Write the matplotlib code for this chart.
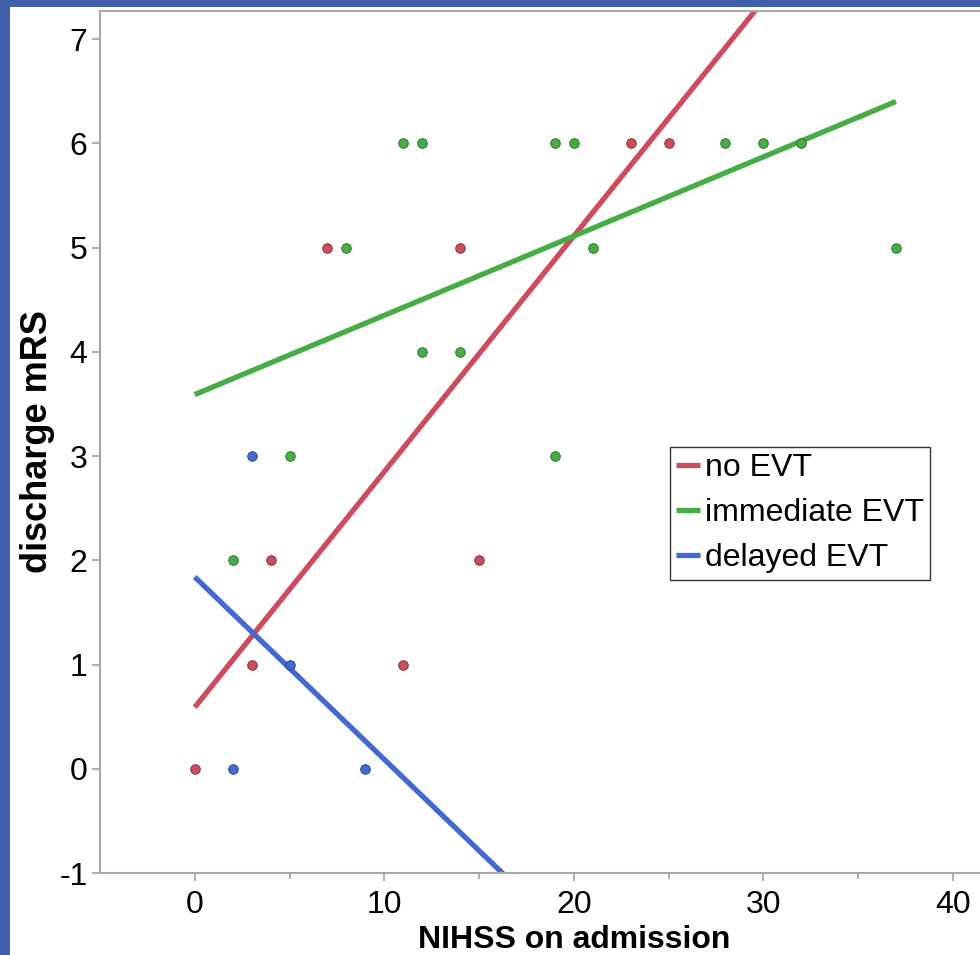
import matplotlib.pyplot as plt
from matplotlib.patches import Rectangle
import numpy as np

plt.rcParams['font.family'] = ['Liberation Sans', 'DejaVu Sans']
plt.rcParams['axes.unicode_minus'] = False

# scatter data: NIHSS on admission vs discharge mRS
no_evt_x = [0, 3, 4, 7, 11, 14, 15, 23, 25]
no_evt_y = [0, 1, 2, 5, 1, 5, 2, 6, 6]
imm_evt_x = [2, 5, 8, 11, 12, 12, 14, 19, 19, 20, 21, 28, 30, 32, 37]
imm_evt_y = [2, 3, 5, 6, 6, 4, 4, 6, 3, 6, 5, 6, 6, 6, 5]
del_evt_x = [2, 3, 5, 9]
del_evt_y = [0, 3, 1, 0]

# fitted lines (intercept, slope)
groups = ["no EVT", "immediate EVT", "delayed EVT"]
intercepts = [0.59, 3.59, 1.84]
slopes = [0.226, 0.076, -0.175]
fit_range = [0, 37]

colors = ["#cc4b5c", "#46ad46", "#4269d2"]
edges = ["#7a2a34", "#2a6a2a", "#253f82"]

fig = plt.figure(figsize=(9.8, 9.55), dpi=100)
fig.patch.set_facecolor("#4160ac")
# white slide panel behind the chart
panel = Rectangle((10 / 980, 0), 1, (955 - 7) / 955, transform=fig.transFigure,
                  facecolor="white", edgecolor="none", zorder=-10)
fig.patches.append(panel)

ax = fig.add_axes([100 / 980, 82 / 955, 50 * 18.95 / 980, 862 / 955])
ax.set_zorder(1)
ax.set_facecolor("white")
ax.set_xlim(-5, 45)
ax.set_ylim(-1, 7.27)

xs = np.array(fit_range)
for name, b, m, c in zip(groups, intercepts, slopes, colors):
    ax.plot(xs, b + m * xs, color=c, lw=3.8, solid_capstyle="butt",
            label=name, zorder=2)

for px, py, c, e in [(no_evt_x, no_evt_y, colors[0], edges[0]),
                     (imm_evt_x, imm_evt_y, colors[1], edges[1]),
                     (del_evt_x, del_evt_y, colors[2], edges[2])]:
    ax.scatter(px, py, s=48, color=c, edgecolors=e, linewidths=0.6, zorder=3)

ax.set_xticks([0, 10, 20, 30, 40])
ax.set_xticks([5, 15, 25, 35], minor=True)
ax.set_yticks(range(-1, 8))
ax.tick_params(axis="both", labelsize=23, color="#a0a0a0", length=6,
               width=1.2, pad=3)
ax.tick_params(axis="x", pad=6)
ax.tick_params(axis="x", which="minor", color="#a0a0a0", length=4, width=1.2)
for s in ax.spines.values():
    s.set_color("#a8a8a8")
    s.set_linewidth(1.5)

ax.set_xlabel("NIHSS on admission", fontsize=23, fontweight="bold", labelpad=4)
ax.set_ylabel("discharge mRS", fontsize=26, fontweight="bold", labelpad=3)

leg = ax.legend(loc="upper left", bbox_to_anchor=(570 / 948, (873 - 447) / 862),
                fontsize=23, frameon=True, fancybox=False, handlelength=0.75,
                handletextpad=0.15, borderpad=0.2, labelspacing=0.47,
                borderaxespad=0)
leg.get_frame().set_edgecolor("black")
leg.get_frame().set_linewidth(1.0)

fig.savefig("out.png", dpi=100, facecolor=fig.get_facecolor())
